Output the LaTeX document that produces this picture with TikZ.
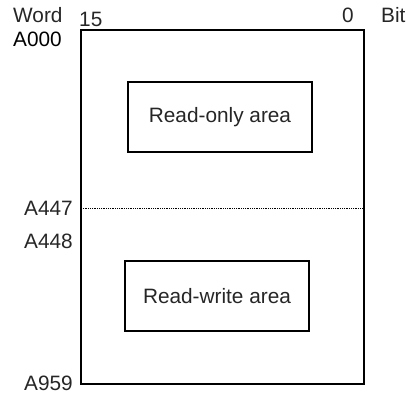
\documentclass[tikz,border=0pt]{standalone}
\usepackage{fontspec}
\setmainfont{Liberation Sans}
\begin{document}
\begin{tikzpicture}[x=1pt,y=-1pt,
  lbl/.style={font=\fontsize{20.8}{22}\selectfont, inner sep=0pt, text=black!85},
  area/.style={draw, line width=1.4pt, minimum width=184pt, minimum height=70pt, inner sep=0pt, font=\fontsize{20.8}{22}\selectfont, text=black!85}]
\useasboundingbox (0,0) rectangle (409,394);
\draw[line width=1.2pt] (81,30) rectangle (364,384);
\coordinate (dl) at (81,208);
\coordinate (dr) at (364,208);
\draw[densely dotted, line width=0.8pt] (dl) -- (dr);
\node[area] (ro) at (220,117) {Read-only area};
\node[area] (rw) at (217,296) {Read-write area};
\node[lbl, anchor=base west] (word) at (13,22) {Word};
\node[lbl, anchor=base west] (b15) at (79,26) {15};
\node[lbl, anchor=base east] (b0) at (354,22) {0};
\node[lbl, anchor=base west] (bit) at (381,22) {Bit};
\node[lbl, anchor=base west, text=black] (a000) at (13,46) {A000};
\node[lbl, anchor=base east] (a447) at (73,215) {A447};
\node[lbl, anchor=base east] (a448) at (73,248) {A448};
\node[lbl, anchor=base east] (a959) at (73,390) {A959};
\end{tikzpicture}
\end{document}
